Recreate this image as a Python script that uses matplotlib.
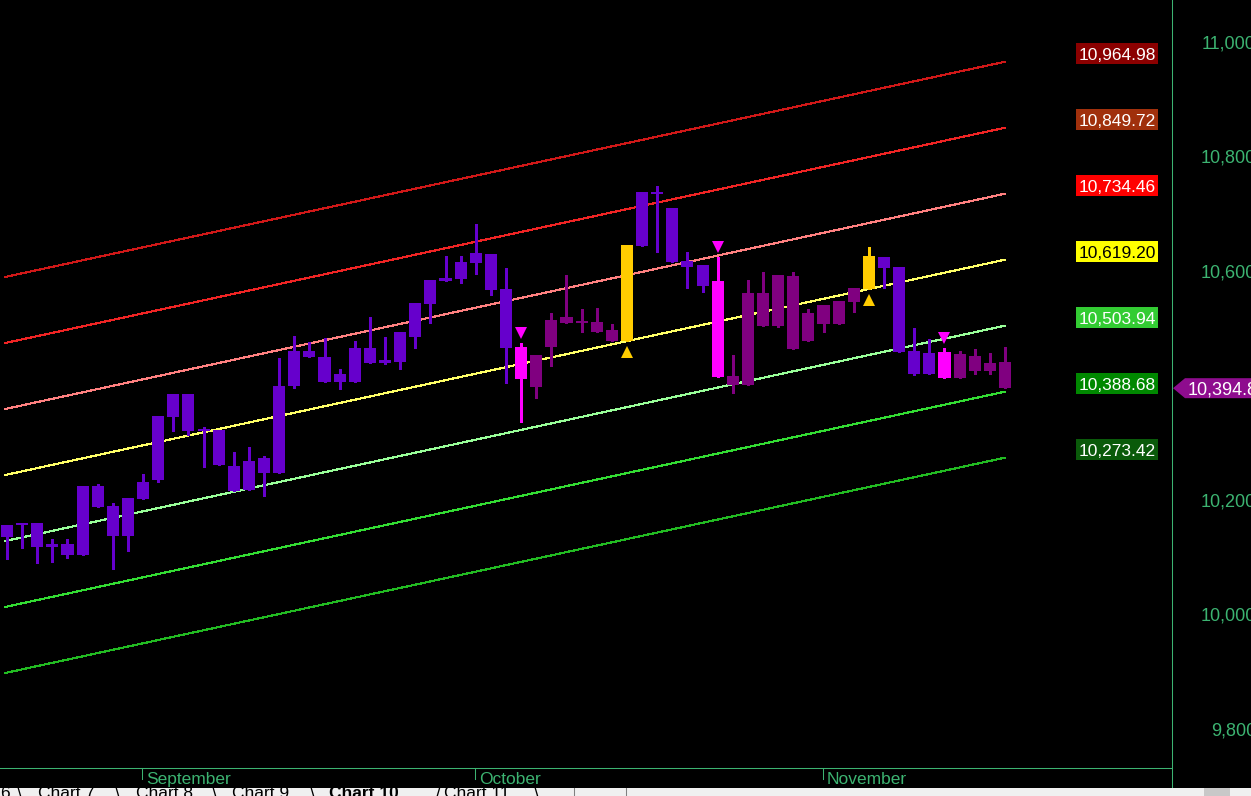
import matplotlib
matplotlib.use('Agg')
import matplotlib.pyplot as plt
from matplotlib.patches import Rectangle, Polygon
from matplotlib.lines import Line2D
from matplotlib.transforms import IdentityTransform, offset_copy

plt.rcParams['font.family'] = ['Liberation Sans', 'DejaVu Sans']

# ---------------- data ----------------
opens = [10155.8, 10156.4, 10159.3, 10122.6, 10122.6, 10103.4, 10187.8, 10189.0, 10136.6, 10201.2,
         10234.4, 10345.0, 10384.6, 10324.0, 10321.2, 10258.9, 10216.9, 10247.2, 10247.2, 10398.6,
         10449.8, 10449.8, 10405.6, 10405.6, 10465.0, 10444.0, 10440.5, 10484.7, 10542.4, 10582.5,
         10585.5, 10613.5, 10629.2, 10568.0, 10466.7, 10452.8, 10466.7, 10508.7, 10512.7, 10510.4,
         10496.4, 10477.7, 10643.1, 10738.0, 10709.5, 10617.0, 10610.0, 10582.0, 10416.1, 10400.4,
         10560.5, 10503.4, 10590.7, 10477.7, 10506.9, 10506.9, 10545.9, 10567.5, 10624.5, 10606.0,
         10459.7, 10419.6, 10458.0, 10413.1, 10451.0, 10438.8, 10440.5]
highs = [10155.8, 10159.8, 10159.3, 10130.8, 10130.8, 10223.9, 10227.4, 10194.8, 10203.0, 10245.4,
         10346.2, 10384.6, 10384.6, 10327.5, 10321.2, 10283.9, 10292.6, 10276.3, 10448.0, 10486.0,
         10476.0, 10483.0, 10428.3, 10477.7, 10519.7, 10484.7, 10492.9, 10543.6, 10583.8, 10626.2,
         10626.2, 10681.6, 10629.2, 10604.7, 10474.2, 10452.8, 10525.6, 10592.5, 10533.1, 10534.3,
         10506.9, 10644.9, 10738.0, 10748.5, 10709.5, 10632.1, 10610.0, 10623.9, 10452.8, 10583.8,
         10597.2, 10592.5, 10598.3, 10532.6, 10540.1, 10547.1, 10569.3, 10640.9, 10624.5, 10606.0,
         10499.4, 10480.2, 10465.0, 10459.7, 10462.7, 10456.8, 10466.2]
lows = [10096.4, 10115.6, 10089.4, 10090.7, 10097.6, 10103.4, 10187.8, 10078.4, 10110.4, 10201.2,
        10230.4, 10320.5, 10313.0, 10257.1, 10260.6, 10215.2, 10216.9, 10206.5, 10247.2, 10395.6,
        10449.8, 10405.6, 10392.8, 10405.6, 10439.3, 10436.5, 10427.8, 10464.5, 10509.2, 10582.5,
        10578.0, 10594.2, 10557.6, 10403.3, 10336.3, 10377.1, 10434.1, 10508.7, 10493.5, 10492.9,
        10477.2, 10477.7, 10643.1, 10633.2, 10615.2, 10570.3, 10563.3, 10414.3, 10385.9, 10400.4,
        10503.4, 10501.1, 10463.2, 10477.7, 10493.5, 10506.9, 10528.4, 10567.5, 10569.3, 10458.5,
        10417.8, 10419.6, 10412.1, 10413.1, 10420.1, 10419.6, 10394.8]
closes = [10134.9, 10159.8, 10117.9, 10117.9, 10103.9, 10223.9, 10223.9, 10136.6, 10203.0, 10230.9,
          10346.2, 10384.6, 10320.0, 10320.5, 10260.6, 10215.2, 10267.6, 10273.4, 10398.6, 10459.7,
          10459.7, 10405.6, 10419.6, 10465.0, 10439.3, 10439.3, 10492.9, 10543.6, 10583.8, 10587.3,
          10615.2, 10630.9, 10566.3, 10465.5, 10410.8, 10396.9, 10513.9, 10519.1, 10509.2, 10492.9,
          10477.2, 10644.9, 10738.0, 10734.5, 10615.2, 10606.5, 10573.8, 10414.3, 10400.4, 10561.6,
          10503.4, 10592.5, 10463.2, 10525.6, 10540.1, 10547.1, 10569.3, 10625.7, 10604.7, 10458.5,
          10419.6, 10456.3, 10412.1, 10454.5, 10424.8, 10424.8, 10394.8]
# bar state: v = up-trend, p = down-trend, m = sell signal, g = buy signal
states = (['v'] * 34 + ['m'] + ['p'] * 6 + ['g'] + ['v'] * 5 + ['m'] + ['p'] * 9 + ['g']
          + ['v'] * 4 + ['m'] + ['p'] * 4)

month_labels = ['September', 'October', 'November']
month_start_bars = [9, 31, 54]

band_labels = ['10,964.98', '10,849.72', '10,734.46', '10,619.20', '10,503.94', '10,388.68', '10,273.42']
band_end = [10964.98, 10849.72, 10734.46, 10619.20, 10503.94, 10388.68, 10273.42]
band_start = [10589.0, 10473.6, 10358.4, 10243.1, 10127.8, 10012.6, 9897.3]

# 10,400 is hidden behind the last-price marker in the original
ytick_values = [9800, 10000, 10200, 10600, 10800, 11000]
ytick_labels = ['9,800', '10,000', '10,200', '10,600', '10,800', '11,000']
last_label = '10,394.8'

tab_texts = ['6', '\\', 'Chart 7', '\\', 'Chart 8', '\\', 'Chart 9', '\\', 'Chart 10', '/', 'Chart 11', '\\']

# ---------------- style ----------------
W, H = 1251, 796
state_colors = {'v': '#6600CC', 'p': '#800080', 'm': '#FF00FF', 'g': '#FFCC00'}
band_line_colors = ['#D01818', '#F02424', '#FF8080', '#FFFF66', '#99FF99', '#33DD33', '#22BB22']
band_box_colors = ['#8B0000', '#A0300C', '#FF0000', '#FFFF00', '#33CC33', '#008800', '#0A5A0A']
band_text_colors = ['white', 'white', 'white', 'black', 'white', 'white', 'white']
axis_green = '#3CB371'
FS = 12.5

fig = plt.figure(figsize=(W / 100, H / 100), dpi=100, facecolor='black')
ax = fig.add_axes([0, (H - 768) / H, 1171 / W, 768 / H])
ax.set_facecolor('black')
ax.set_xlim(-0.463, 76.98)
ax.set_ylim(9731.4, 11072.8)
for s in ['top', 'left', 'right']:
    ax.spines[s].set_visible(False)
ax.spines['bottom'].set_color(axis_green)
ax.spines['bottom'].set_linewidth(0.75)
ax.set_xticks([])
ax.set_yticks([])

n = len(opens)
xs = list(range(n))

# channel lines
for k in range(len(band_end)):
    ax.plot([-0.13, n - 1], [band_start[k], band_end[k]], color=band_line_colors[k], lw=0.8,
            antialiased=False, zorder=1)

# candles
for i in xs:
    c = state_colors[states[i]]
    top = max(opens[i], closes[i])
    bot = min(opens[i], closes[i])
    ax.vlines(i, lows[i], highs[i], color=c, lw=1.0, zorder=2, antialiased=False)
    ax.bar(i, max(top - bot, 2.5), bottom=bot, width=0.8, color=c, zorder=3,
           antialiased=False, linewidth=0)

# signal markers
up_tr = offset_copy(ax.transData, fig=fig, x=0, y=10, units='dots')
dn_tr = offset_copy(ax.transData, fig=fig, x=0, y=-11, units='dots')
for i in xs:
    if states[i] == 'm':
        ax.plot(i, highs[i], marker='v', ms=8.5, color='#FF00FF', mew=0, transform=up_tr, zorder=4)
    elif states[i] == 'g':
        ax.plot(i, lows[i], marker='^', ms=8.5, color='#FFCC00', mew=0, transform=dn_tr, zorder=4)


def ydisp(v):
    return ax.transData.transform((0, v))[1]


# band value boxes
for k in range(len(band_end)):
    yc = ydisp(band_end[k]) + 8
    xc = 1117
    fig.add_artist(Rectangle((xc - 41, yc - 10.5), 82, 21, transform=IdentityTransform(),
                             facecolor=band_box_colors[k], edgecolor='none', zorder=5))
    fig.text(xc / W, yc / H, band_labels[k], ha='center', va='center_baseline', fontsize=FS,
             color=band_text_colors[k], zorder=6)

# right axis vertical line
fig.add_artist(Line2D([1171.5, 1171.5], [H - 788, H], transform=IdentityTransform(),
                      color=axis_green, lw=0.75))

# y tick labels (right aligned, clipped at the edge like the original)
for v, lab in zip(ytick_values, ytick_labels):
    fig.text(1256 / W, ydisp(v) / H, lab, ha='right', va='center_baseline', fontsize=13,
             color=axis_green)

# last price marker
yc = ydisp(closes[-1])
fig.add_artist(Polygon([(1173, yc), (1185, yc + 10), (1260, yc + 10), (1260, yc - 10), (1185, yc - 10)],
                       closed=True, transform=IdentityTransform(), facecolor='#8E0C8E',
                       edgecolor='none', zorder=7))
fig.text(1188 / W, yc / H, last_label, ha='left', va='center_baseline', fontsize=13,
         color='white', zorder=8)

# month labels and tick marks
for b, lab in zip(month_start_bars, month_labels):
    xd = ax.transData.transform((b, 0))[0]
    fig.add_artist(Line2D([xd - 1, xd - 1], [H - 779, H - 768], transform=IdentityTransform(),
                          color=axis_green, lw=0.75))
    fig.text((xd + 3) / W, (H - 778) / H, lab, ha='left', va='center_baseline', fontsize=FS,
             color=axis_green)

# bottom tab strip
fig.add_artist(Rectangle((0, 0), W, 8, transform=IdentityTransform(), facecolor='#F0F0F0',
                         edgecolor='none', zorder=9))
fig.add_artist(Rectangle((1204, 0), 26, 8, transform=IdentityTransform(), facecolor='#C8C8C8',
                         edgecolor='none', zorder=10))
for xx in (574, 626):
    fig.add_artist(Line2D([xx, xx], [0, 8], transform=IdentityTransform(), color='#808080', lw=0.75,
                          zorder=10))
tab_x = [0, 17, 38, 115, 136, 212, 232, 310, 329, 436, 444, 534]
for tx, tt in zip(tab_x, tab_texts):
    fig.text(tx / W, 10 / H, tt, ha='left', va='top', fontsize=FS, color='black',
             fontweight='bold' if tt == 'Chart 10' else 'normal', zorder=11)

fig.savefig('out.png', dpi=100, facecolor='black')
